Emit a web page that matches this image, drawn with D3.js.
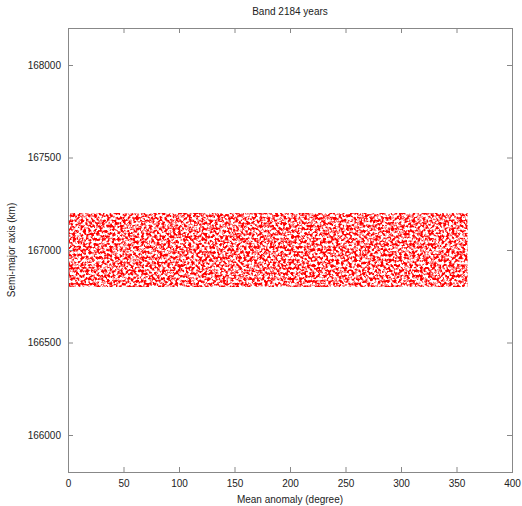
<!DOCTYPE html>
<html>
<head>
<meta charset="utf-8">
<script src="https://cdn.jsdelivr.net/npm/d3@7"></script>
<style>
  body { margin: 0; background: #fff; }
  text { font-family: "Liberation Sans", Arial, sans-serif; fill: #222; }
</style>
</head>
<body>
<div id="chart"></div>
<script>
// Chart size
var svgWidth = 522;
var svgHeight = 506;

// Plot margins (gnuplot style frame)
var margin = { top: 28, right: 10, bottom: 34, left: 68 };
var width = svgWidth - margin.left - margin.right;
var height = svgHeight - margin.top - margin.bottom;

// Data
var titleText = "Band 2184 years";
var xDomain = [0, 400];
var yDomain = [165800, 168200];
var xTicks = [0, 50, 100, 150, 200, 250, 300, 350, 400];
var yTicks = [166000, 166500, 167000, 167500, 168000];
// The scatter fills one band: mean anomaly 0..360, semi-major axis 166800..167200
var bandAnomaly = [0, 360];
var bandAxis = [166800, 167200];

var svg = d3.select("#chart")
  .append("svg")
  .attr("width", svgWidth)
  .attr("height", svgHeight);

// Noise texture standing in for the dense cloud of "+" points
var defs = svg.append("defs");
var filter = defs.append("filter")
  .attr("id", "scatter")
  .attr("x", "-1%").attr("y", "-3%")
  .attr("width", "102%").attr("height", "106%");
filter.append("feTurbulence")
  .attr("type", "fractalNoise")
  .attr("baseFrequency", 0.38)
  .attr("numOctaves", 2)
  .attr("seed", 7)
  .attr("result", "noise");
filter.append("feColorMatrix")
  .attr("in", "noise")
  .attr("type", "matrix")
  .attr("values", "0 0 0 0 0  0 0 0 0 0  0 0 0 0 0  4.5 0 0 0 -1.8")
  .attr("result", "mask");
filter.append("feComposite")
  .attr("in", "SourceGraphic")
  .attr("in2", "mask")
  .attr("operator", "in");

var chartGroup = svg.append("g")
  .attr("transform", `translate(${margin.left}, ${margin.top})`);

var xScale = d3.scaleLinear().domain(xDomain).range([0, width]);
var yScale = d3.scaleLinear().domain(yDomain).range([height, 0]);

// Points band
chartGroup.append("rect")
  .attr("x", xScale(bandAnomaly[0]))
  .attr("y", yScale(bandAxis[1]))
  .attr("width", xScale(bandAnomaly[1]) - xScale(bandAnomaly[0]))
  .attr("height", yScale(bandAxis[0]) - yScale(bandAxis[1]))
  .attr("fill", "#ff0000")
  .attr("filter", "url(#scatter)");

// Axes, ticks pointing inward on all four sides
var bottomAxis = d3.axisBottom(xScale).tickValues(xTicks).tickSize(-5).tickPadding(8);
var topAxis = d3.axisTop(xScale).tickValues(xTicks).tickSize(-5).tickFormat("");
var leftAxis = d3.axisLeft(yScale).tickValues(yTicks).tickSize(-5).tickPadding(7).tickFormat(d3.format("d"));
var rightAxis = d3.axisRight(yScale).tickValues(yTicks).tickSize(-5).tickFormat("");

chartGroup.append("g").attr("transform", `translate(0, ${height})`).call(bottomAxis);
chartGroup.append("g").call(topAxis);
chartGroup.append("g").call(leftAxis);
chartGroup.append("g").attr("transform", `translate(${width}, 0)`).call(rightAxis);

chartGroup.selectAll(".domain").remove();
chartGroup.selectAll(".tick line").attr("stroke", "#888");
chartGroup.selectAll(".tick text")
  .attr("fill", "#222")
  .style("font-size", "10px")
  .style("font-family", "'Liberation Sans', Arial, sans-serif");

// Frame
chartGroup.append("rect")
  .attr("x", 0.5).attr("y", 0.5)
  .attr("width", width).attr("height", height)
  .attr("fill", "none")
  .attr("stroke", "#888");

// Title and labels
svg.append("text")
  .attr("x", margin.left + width / 2)
  .attr("y", 15)
  .attr("text-anchor", "middle")
  .style("font-size", "10px")
  .text(titleText);

svg.append("text")
  .attr("x", margin.left + width / 2)
  .attr("y", 503)
  .attr("text-anchor", "middle")
  .style("font-size", "10px")
  .text("Mean anomaly (degree)");

svg.append("text")
  .attr("transform", `translate(15, ${margin.top + height / 2}) rotate(-90)`)
  .attr("text-anchor", "middle")
  .style("font-size", "10px")
  .text("Semi-major axis (km)");
</script>
</body>
</html>
